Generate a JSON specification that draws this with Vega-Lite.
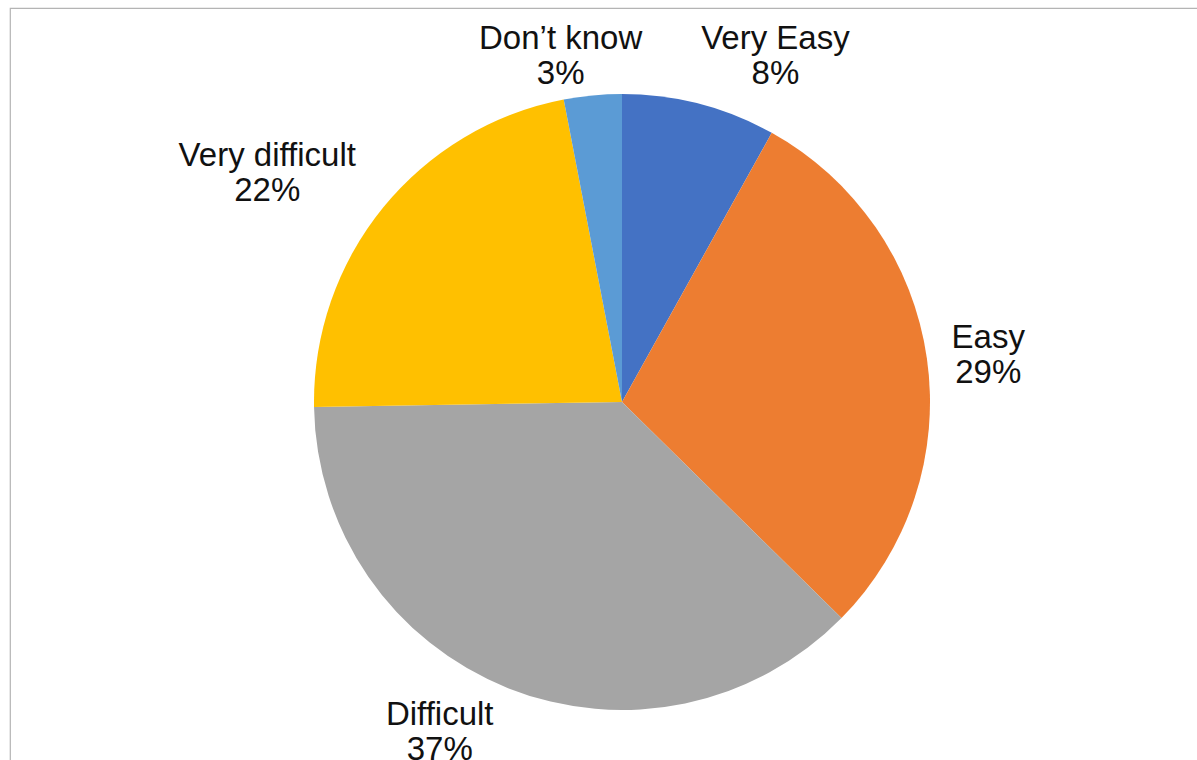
{
  "$schema": "https://vega.github.io/schema/vega-lite/v6.json",
  "description": "Pie chart of how easy or difficult respondents found it.",
  "width": 1197,
  "height": 760,
  "autosize": {"type": "fit", "contains": "padding"},
  "padding": {"left": 10, "top": 8, "right": -37, "bottom": -36},
  "background": "white",
  "view": {"stroke": "#b4b4b4", "strokeWidth": 1.2},
  "config": {
    "font": "Liberation Sans"
  },
  "data": {
    "values": [
      {"answer": "Very Easy", "share": 8, "rank": 1},
      {"answer": "Easy", "share": 29, "rank": 2},
      {"answer": "Difficult", "share": 37, "rank": 3},
      {"answer": "Very difficult", "share": 22, "rank": 4},
      {"answer": "Don’t know", "share": 3, "rank": 5}
    ]
  },
  "transform": [
    {"stack": "share", "groupby": [], "sort": [{"field": "rank"}], "as": ["start", "end"]},
    {"calculate": "(datum.start + datum.end) / 2", "as": "mid"},
    {"calculate": "datum.answer + '\\n' + datum.share + '%'", "as": "label"}
  ],
  "encoding": {
    "color": {
      "field": "answer",
      "type": "nominal",
      "legend": null,
      "scale": {
        "domain": ["Very Easy", "Easy", "Difficult", "Very difficult", "Don’t know"],
        "range": ["#4472c4", "#ed7d31", "#a5a5a5", "#ffc000", "#5b9bd5"]
      }
    },
    "text": {"field": "label"}
  },
  "layer": [
    {
      "mark": {"type": "arc", "outerRadius": 308},
      "encoding": {
        "theta": {"field": "start", "type": "quantitative", "scale": {"domain": [0, 99]}},
        "theta2": {"field": "end"}
      }
    },
    {
      "transform": [{"filter": "datum.answer == 'Very Easy'"}],
      "mark": {"type": "text", "radius": 372, "dx": 60, "dy": -3, "fontSize": 33, "lineBreak": "\n", "lineHeight": 35, "baseline": "middle", "color": "#111111"},
      "encoding": {
        "theta": {"field": "mid", "type": "quantitative", "scale": {"domain": [0, 99]}},
        "color": {"value": "#111111"}
      }
    },
    {
      "transform": [{"filter": "datum.answer == 'Easy'"}],
      "mark": {"type": "text", "radius": 372, "dx": -2, "dy": -11, "fontSize": 33, "lineBreak": "\n", "lineHeight": 35, "baseline": "middle", "color": "#111111"},
      "encoding": {
        "theta": {"field": "mid", "type": "quantitative", "scale": {"domain": [0, 99]}},
        "color": {"value": "#111111"}
      }
    },
    {
      "transform": [{"filter": "datum.answer == 'Difficult'"}],
      "mark": {"type": "text", "radius": 372, "dx": -44, "dy": -32, "fontSize": 33, "lineBreak": "\n", "lineHeight": 35, "baseline": "middle", "color": "#111111"},
      "encoding": {
        "theta": {"field": "mid", "type": "quantitative", "scale": {"domain": [0, 99]}},
        "color": {"value": "#111111"}
      }
    },
    {
      "transform": [{"filter": "datum.answer == 'Very difficult'"}],
      "mark": {"type": "text", "radius": 372, "dx": -66, "dy": -11, "fontSize": 33, "lineBreak": "\n", "lineHeight": 35, "baseline": "middle", "color": "#111111"},
      "encoding": {
        "theta": {"field": "mid", "type": "quantitative", "scale": {"domain": [0, 99]}},
        "color": {"value": "#111111"}
      }
    },
    {
      "transform": [{"filter": "datum.answer == 'Don’t know'"}],
      "mark": {"type": "text", "radius": 372, "dx": -26, "dy": 7, "fontSize": 33, "lineBreak": "\n", "lineHeight": 35, "baseline": "middle", "color": "#111111"},
      "encoding": {
        "theta": {"field": "mid", "type": "quantitative", "scale": {"domain": [0, 99]}},
        "color": {"value": "#111111"}
      }
    }
  ]
}
